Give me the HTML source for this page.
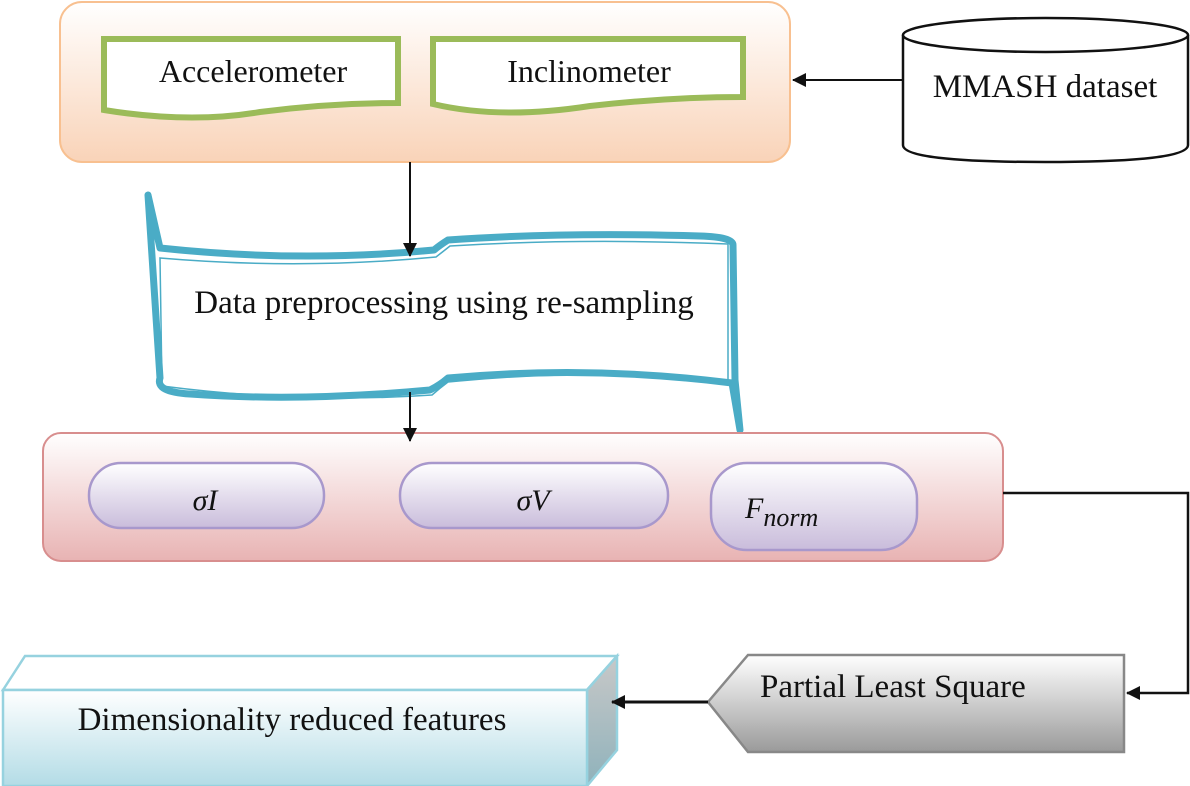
<!DOCTYPE html>
<html><head><style>html,body{margin:0;padding:0;background:#fff}svg{display:block}</style></head>
<body>
<svg width="1190" height="786" viewBox="0 0 1190 786" xmlns="http://www.w3.org/2000/svg" font-family="Liberation Serif, serif">
<defs>
<linearGradient id="go" x1="0" y1="0" x2="0" y2="1"><stop offset="0" stop-color="#fff"/><stop offset="1" stop-color="#f9d3b8"/></linearGradient>
<linearGradient id="gp" x1="0" y1="0" x2="0" y2="1"><stop offset="0" stop-color="#fff"/><stop offset="1" stop-color="#e8b3b3"/></linearGradient>
<linearGradient id="gv" x1="0" y1="0" x2="0" y2="1"><stop offset="0" stop-color="#fff"/><stop offset="1" stop-color="#c9bcdb"/></linearGradient>
<linearGradient id="gg" x1="0" y1="0" x2="0" y2="1"><stop offset="0" stop-color="#fff"/><stop offset="1" stop-color="#9a9a9a"/></linearGradient>
<linearGradient id="gb" x1="0" y1="0" x2="0" y2="1"><stop offset="0" stop-color="#fff"/><stop offset="1" stop-color="#b3dce6"/></linearGradient>
<linearGradient id="gs" x1="0" y1="0" x2="0" y2="1"><stop offset="0" stop-color="#c8c8c8"/><stop offset="1" stop-color="#8fb2bb"/></linearGradient>
<marker id="ar" markerWidth="14" markerHeight="14" refX="13" refY="7" orient="auto" markerUnits="userSpaceOnUse"><path d="M0,0 L14,7 L0,14 z" fill="#111"/></marker>
</defs>
<!-- orange box -->
<rect x="60" y="2" width="730" height="160" rx="22" fill="url(#go)" stroke="#f8c090" stroke-width="2"/>
<path d="M104,39 L398,39 L398,103 Q330,103 260,112 Q190,124 104,110 Z" fill="#fff" stroke="#9bbb59" stroke-width="6"/>
<text x="253" y="82" font-size="32" text-anchor="middle" fill="#111">Accelerometer</text>
<path d="M433,39 L743,39 L743,97 Q670,97 590,106 Q500,120 433,104 Z" fill="#fff" stroke="#9bbb59" stroke-width="6"/>
<text x="589" y="82" font-size="32" text-anchor="middle" fill="#111">Inclinometer</text>
<!-- cylinder -->
<path d="M903,35 L903,145 Q903,162 1045,162 Q1188,162 1188,145 L1188,35" fill="#fff" stroke="#111" stroke-width="2.5"/>
<ellipse cx="1045.5" cy="35" rx="142.5" ry="17" fill="#fff" stroke="#111" stroke-width="2.5"/>
<text x="1045" y="97" font-size="33" text-anchor="middle" fill="#111">MMASH dataset</text>
<line x1="903" y1="80" x2="793" y2="80" stroke="#111" stroke-width="2" marker-end="url(#ar)"/>
<!-- banner -->
<path d="M148,195 L160,378 Q155,392 190,394 Q300,402 430,390 Q440,385 448,378 Q590,365 732,383 L740,430 L735,380 L733,245 Q733,237 700,236 Q560,232 448,240 Q440,245 434,250 Q300,263 160,248 Z" fill="#fff" stroke="#4aacc6" stroke-width="7" stroke-linejoin="round"/>
<path d="M160,258 Q300,270 436,257 Q445,250 450,246 Q580,238 728,244 L728,380 Q590,368 448,382 Q440,388 432,395 Q300,404 162,386 Z" fill="none" stroke="#4aacc6" stroke-width="1.5"/>
<text x="444" y="313" font-size="33" text-anchor="middle" fill="#111">Data preprocessing using re-sampling</text>
<line x1="410" y1="162" x2="410" y2="256" stroke="#111" stroke-width="2" marker-end="url(#ar)"/>
<!-- pink box -->
<rect x="43" y="433" width="960" height="128" rx="18" fill="url(#gp)" stroke="#d88e8e" stroke-width="2"/>
<line x1="410" y1="392" x2="410" y2="441" stroke="#111" stroke-width="2" marker-end="url(#ar)"/>
<rect x="89" y="463" width="235" height="65" rx="32" fill="url(#gv)" stroke="#a898cc" stroke-width="2.5"/>
<text x="205" y="510" font-size="30" font-style="italic" text-anchor="middle" fill="#111">σI</text>
<rect x="400" y="463" width="268" height="65" rx="32" fill="url(#gv)" stroke="#a898cc" stroke-width="2.5"/>
<text x="533" y="510" font-size="30" font-style="italic" text-anchor="middle" fill="#111">σV</text>
<rect x="711" y="463" width="206" height="87" rx="36" fill="url(#gv)" stroke="#a898cc" stroke-width="2.5"/>
<text x="745" y="518" font-size="30" font-style="italic" fill="#111">F<tspan font-size="26" dy="8">norm</tspan></text>
<polyline points="1003,493 1188,493 1188,693 1127,693" fill="none" stroke="#111" stroke-width="2.5" marker-end="url(#ar)"/>
<!-- PLS -->
<polygon points="1124,655 748,655 708,702 748,752 1124,752" fill="url(#gg)" stroke="#888" stroke-width="2.5"/>
<text x="760" y="697" font-size="33" fill="#111">Partial Least Square</text>
<!-- 3D box -->
<polygon points="3,690 25,656 617,656 587,690" fill="#fff" stroke="#96d2df" stroke-width="2.5"/>
<polygon points="587,690 617,656 617,750 587,786" fill="url(#gs)" stroke="#96d2df" stroke-width="2.5"/>
<rect x="3" y="690" width="584" height="96" fill="url(#gb)" stroke="#96d2df" stroke-width="2.5"/>
<text x="292" y="730" font-size="33" text-anchor="middle" fill="#111">Dimensionality reduced features</text>
<line x1="708" y1="702" x2="612" y2="702" stroke="#111" stroke-width="3" marker-end="url(#ar)"/>
</svg>
</body></html>
